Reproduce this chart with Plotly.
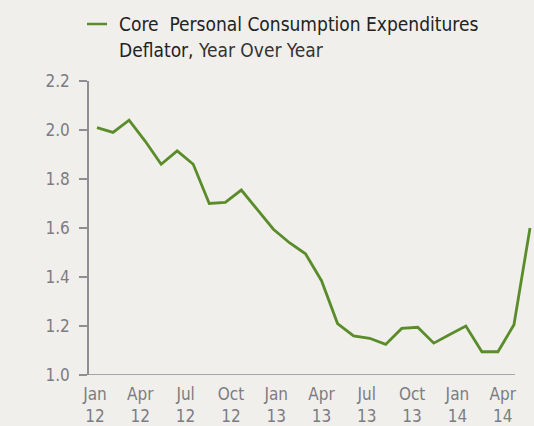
import plotly.graph_objects as go

months = ["Jan 12","Feb 12","Mar 12","Apr 12","May 12","Jun 12","Jul 12","Aug 12","Sep 12","Oct 12","Nov 12","Dec 12",
          "Jan 13","Feb 13","Mar 13","Apr 13","May 13","Jun 13","Jul 13","Aug 13","Sep 13","Oct 13","Nov 13","Dec 13",
          "Jan 14","Feb 14","Mar 14","Apr 14"]
core_pce = [2.01, 1.99, 2.04, 1.955, 1.86, 1.915, 1.86, 1.70, 1.705, 1.755, 1.675, 1.595,
            1.54, 1.495, 1.385, 1.21, 1.16, 1.15, 1.125, 1.19, 1.195, 1.13, 1.165, 1.20,
            1.095, 1.095, 1.205, 1.60]
tick_labels = ["Jan<br>12","Apr<br>12","Jul<br>12","Oct<br>12","Jan<br>13","Apr<br>13","Jul<br>13","Oct<br>13","Jan<br>14","Apr<br>14"]
y_ticks = [1.0, 1.2, 1.4, 1.6, 1.8, 2.0, 2.2]

W, H = 534, 426
L, R, T, B = 89, 0, 81, 51
PW, PH = W - L - R, H - T - B
GREEN = "#5a8c2a"
GRAY = "#7c7c82"
AXIS = "#8e8e93"
FONT = "DejaVu Sans Condensed, Liberation Sans Narrow, Roboto, sans-serif"

def px_x(p):
    return (p - L) / PW

def px_y(p):
    return (H - B - p) / PH

# x range chosen so first point sits at ~97px and last at ~530px
ppu = (530 - 97) / 27
x0 = -(97 - L) / ppu
x1 = x0 + PW / ppu
step = 45.3 / ppu
tick_vals = [x0 + (95 - L) / ppu + i * step for i in range(len(tick_labels))]

x_idx = list(range(len(months)))

fig = go.Figure()
fig.add_trace(go.Scatter(x=x_idx, y=core_pce, mode="lines",
                         line=dict(color=GREEN, width=2.8),
                         text=months, hoverinfo="text+y", showlegend=False))

fig.update_layout(
    width=W, height=H, autosize=False,
    margin=dict(l=L, r=R, t=T, b=B, pad=0, autoexpand=False),
    paper_bgcolor="#f0efec", plot_bgcolor="#f0efec",
    font=dict(family=FONT, color=GRAY, size=17),
    xaxis=dict(range=[x0, x1], tickmode="array", tickvals=tick_vals, ticktext=tick_labels,
               showgrid=False, zeroline=False, showline=False, ticks="", automargin=False,
               ticklabelstandoff=7,
               tickfont=dict(size=17, color=GRAY, family=FONT)),
    yaxis=dict(range=[1.0, 2.2], tickmode="array", tickvals=y_ticks,
               ticktext=[f"{v:.1f}" for v in y_ticks], automargin=False,
               showgrid=False, zeroline=False, showline=True, linecolor=AXIS, linewidth=1.5,
               ticks="outside", ticklen=8, tickwidth=1.5, tickcolor=AXIS,
               ticklabelstandoff=6,
               tickfont=dict(size=17, color=GRAY, family=FONT)),
    shapes=[
        dict(type="line", xref="paper", yref="y", x0=0, x1=px_x(515), y0=1.0, y1=1.0,
             line=dict(color=AXIS, width=1.5)),
        dict(type="line", xref="paper", yref="paper", x0=px_x(87), x1=px_x(107),
             y0=px_y(24), y1=px_y(24), line=dict(color=GREEN, width=2.5)),
    ],
    annotations=[
        dict(xref="paper", yref="paper", x=px_x(117), y=px_y(24), xanchor="left", yanchor="middle",
             text="Core  Personal Consumption Expenditures", showarrow=False,
             font=dict(size=19, color="#222222", family=FONT)),
        dict(xref="paper", yref="paper", x=px_x(117), y=px_y(50), xanchor="left", yanchor="middle",
             text="Deflator, <span style='color:#333333'>Year Over Year</span>", showarrow=False,
             font=dict(size=19, color="#222222", family=FONT)),
    ],
)

fig.write_html("out.html", config={"displayModeBar": False},
               post_script="document.body.style.margin='0';document.body.style.overflow='hidden';")
